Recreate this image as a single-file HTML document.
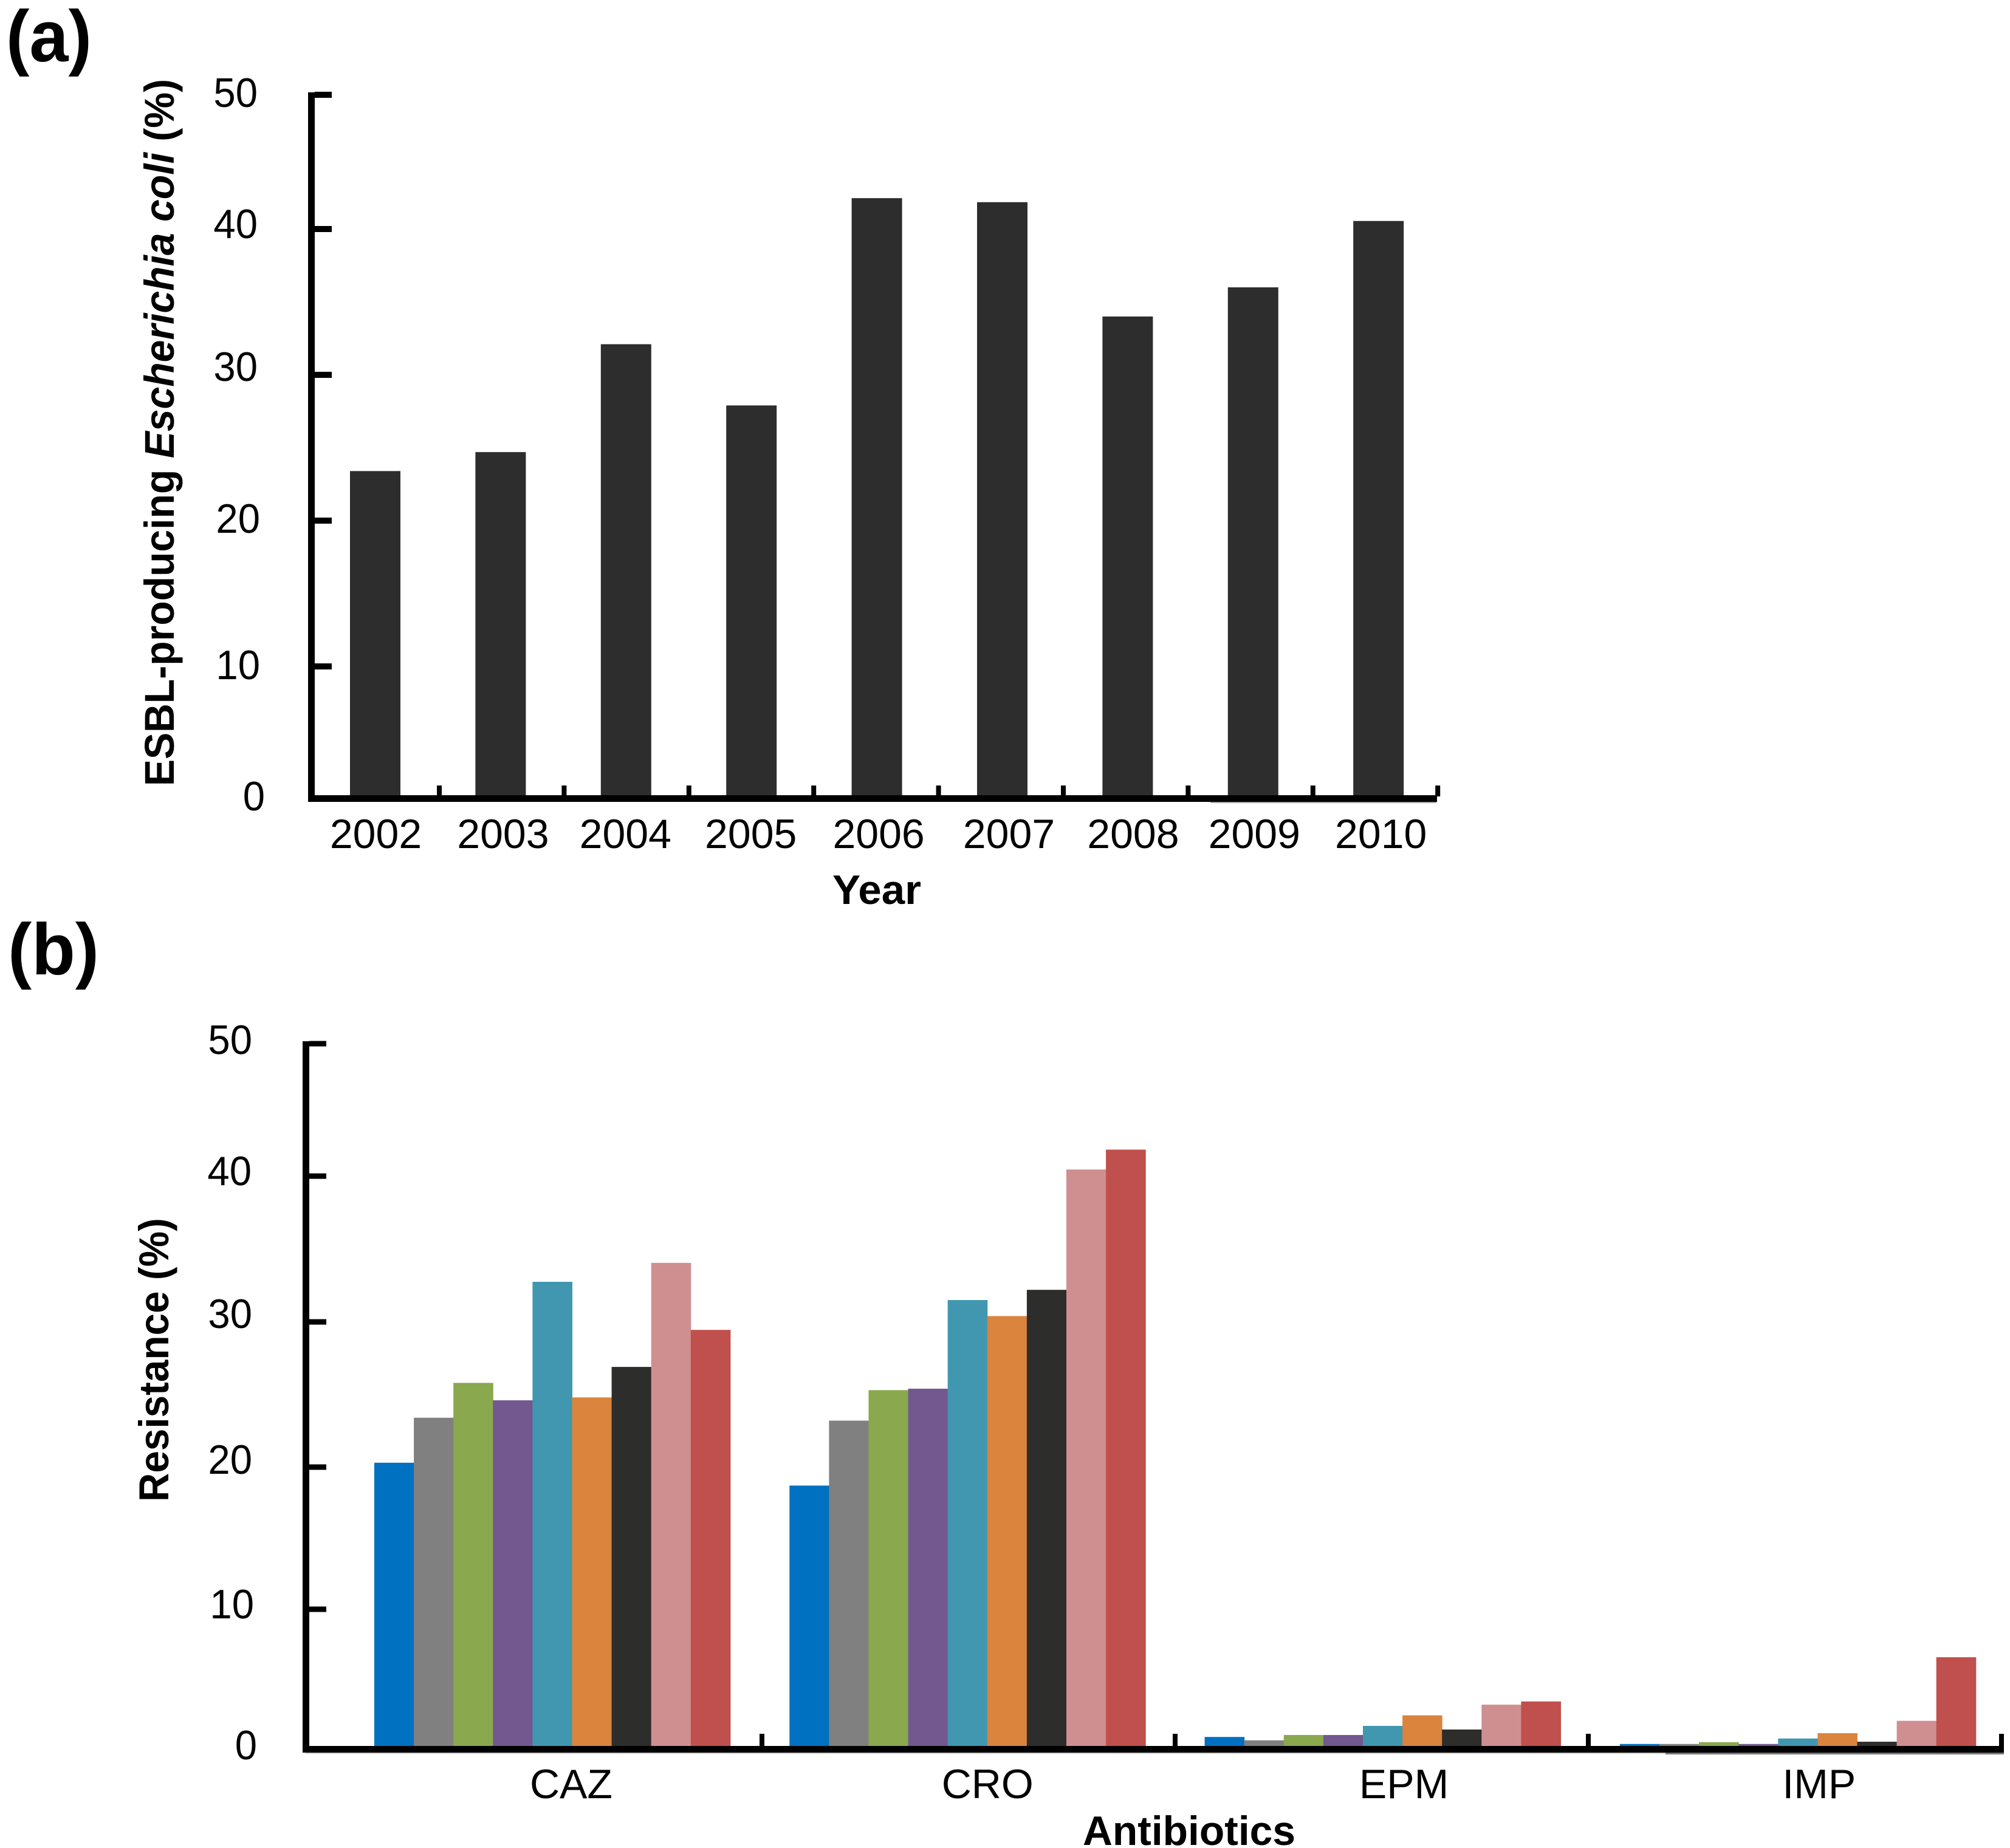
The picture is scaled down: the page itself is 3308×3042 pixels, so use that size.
<!DOCTYPE html>
<html lang="en">
<head>
<meta charset="utf-8">
<title>ESBL-producing Escherichia coli prevalence and antibiotic resistance</title>
<style>
html,body{margin:0;padding:0;background:#fff;}
svg{display:block;}
text{font-family:"Liberation Sans",Arial,sans-serif;fill:#000;}
.b{font-weight:700;}
</style>
</head>
<body>
<svg id="figure" xmlns="http://www.w3.org/2000/svg" width="3308" height="3042" viewBox="0 0 3308 3042">
  <rect x="0" y="0" width="3308" height="3042" fill="#ffffff"/>
  <text class="b" x="10" y="101" font-size="120" textLength="141" lengthAdjust="spacingAndGlyphs">(a)</text>
  <text class="b" x="13" y="1604" font-size="120" textLength="150" lengthAdjust="spacingAndGlyphs">(b)</text>
  <g id="panel-a"></g>
  <g id="panel-b"></g>
  <text class="b" transform="translate(286,1294) rotate(-90)" font-size="69" textLength="1164" lengthAdjust="spacingAndGlyphs">ESBL-producing <tspan font-style="italic">Escherichia coli</tspan> (%)</text>
  <text class="b" x="1443" y="1488" font-size="68" text-anchor="middle" textLength="146" lengthAdjust="spacingAndGlyphs">Year</text>
  <text class="b" transform="translate(277,2472) rotate(-90)" font-size="69" textLength="467" lengthAdjust="spacingAndGlyphs">Resistance (%)</text>
  <text class="b" x="1957" y="3037" font-size="68" text-anchor="middle" textLength="350" lengthAdjust="spacingAndGlyphs">Antibiotics</text>
</svg>
<script>
// ---- Panel (a) data ----
const years = ['2002','2003','2004','2005','2006','2007','2008','2009','2010'];
const esblValues = [23.4, 24.7, 32.1, 27.9, 42.3, 42.0, 34.0, 36.0, 40.6];
const aTickLabels = [0, 10, 20, 30, 40, 50];

// ---- Panel (b) data ----
const antibiotics = ['CAZ','CRO','EPM','IMP'];
const cazValues = [20.3, 23.4, 25.8, 24.6, 32.75, 24.8, 26.9, 34.05, 29.45];
const croValues = [18.7, 23.2, 25.3, 25.4, 31.5, 30.4, 32.2, 40.5, 42.0];
const epmValues = [0.9, 0.66, 1.04, 1.04, 1.69, 2.44, 1.43, 3.2, 3.43];
const impValues = [0.4, 0.4, 0.53, 0.4, 0.79, 1.17, 0.56, 2.05, 6.58];
const bTickLabels = [0, 10, 20, 30, 40, 50];
const seriesColors = ['#0070c0','#808080','#8aa84e','#72588f','#4197b0','#da843e','#2d2d2b','#cf8f91','#c0504d'];

const NS = 'http://www.w3.org/2000/svg';

function piecewise(v, px) {
  // px holds the pixel row of the ticks 0,10,...,50 (the source figure's axis is slightly uneven)
  const t = Math.max(0, Math.min(4.9999, v / 10));
  const i = Math.floor(t);
  return px[i] + (px[i + 1] - px[i]) * (t - i);
}
function yA(v) { return piecewise(v, [1315, 1097, 857, 617, 377, 156]); }
function yB(v) { return piecewise(v, [2880, 2649, 2415, 2176, 1936, 1718]); }
function xA(i) { return 617.5 + 206.4 * i; }
function xATick(i) { return 723 + 205.4 * i; }
function xB(g, s) { return 616 + 683.3 * g + 65.1 * s; }
function xBTick(i) { return 1254 + 680 * i; }

function makeRect(parent, x, y, w, h, fill) {
  const el = document.createElementNS(NS, 'rect');
  el.setAttribute('x', x);
  el.setAttribute('y', y);
  el.setAttribute('width', w);
  el.setAttribute('height', h);
  el.setAttribute('fill', fill);
  parent.appendChild(el);
  return el;
}
function makeText(parent, str, x, y, anchor, squeeze) {
  const el = document.createElementNS(NS, 'text');
  el.setAttribute('x', x);
  el.setAttribute('y', y);
  el.setAttribute('font-size', 68);
  el.setAttribute('text-anchor', anchor);
  el.textContent = str;
  parent.appendChild(el);
  el.setAttribute('textLength', (el.getComputedTextLength() * squeeze).toFixed(1));
  el.setAttribute('lengthAdjust', 'spacingAndGlyphs');
  return el;
}

// ---- Draw panel (a) ----
const gA = document.getElementById('panel-a');
const aLabelRight = [436, 428, 428, 424, 424, 424];
const aLabelDrop = [19, 21, 20, 10, 15, 20];
const aYearNudge = [1, 4, -1, -1, 3, 11, 9, 2, 4];

esblValues.forEach(function (v, i) {
  const bar = makeRect(gA, xA(i) - 41.5, yA(v), 83, yA(0) - yA(v), '#2d2d2d');
  
  
});
const aYLine = makeRect(gA, 507, 152, 11, 1168, '#000');


const aXLine = makeRect(gA, 507, 1309, 1858, 11, '#000');


const aShadow = makeRect(gA, 1992, 1320, 372, 2, '#aaa');



aTickLabels.forEach(function (t, i) {
  if (t > 0) {
    const tick = makeRect(gA, 518, yA(t) - 5, 28, 10, '#000');
    
    
  }
  const label = makeText(gA, String(t), aLabelRight[i], yA(t) + aLabelDrop[i], 'end', 0.96);
  
  
});
years.forEach(function (yr, i) {
  const tick = makeRect(gA, xATick(i) - 4, 1293, 8, 18, '#000');
  
  
  const label = makeText(gA, yr, xA(i) + aYearNudge[i], 1396, 'middle', 1.0);
  
  
});

// ---- Draw panel (b) ----
const gB = document.getElementById('panel-b');
const bGroups = [cazValues, croValues, epmValues, impValues];
const bLabelRight = [423, 418, 415, 415, 414, 415];
const bLabelDrop = [16, 15, 11, 10, 15, 17];
const bCategoryNudge = [31, 33, 35, 35];

bGroups.forEach(function (vals, g) {
  vals.forEach(function (v, s) {
    const bar = makeRect(gB, xB(g, s), yB(v), 65.6, yB(0) - yB(v), seriesColors[s]);
    
    
  });
});
const bYLine = makeRect(gB, 498, 1714, 11, 1171, '#000');


const bXLine = makeRect(gB, 498, 2874, 2800, 11, '#000');


const bShadowL = makeRect(gB, 503, 2885, 2238, 2, '#cccccc');


const bShadowR = makeRect(gB, 2741, 2885, 557, 3, '#777777');



bTickLabels.forEach(function (t, i) {
  if (t > 0) {
    const tick = makeRect(gB, 509, yB(t) - 4.5, 28, 9, '#000');
    
    
  }
  const label = makeText(gB, String(t), bLabelRight[i], yB(t) + bLabelDrop[i], 'end', 0.96);
  
  
});
antibiotics.forEach(function (name, g) {
  const tick = makeRect(gB, xBTick(g) - 4, 2854, 8, 22, '#000');
  
  
  const label = makeText(gB, name, xB(g, 4.5) + bCategoryNudge[g], 2960, 'middle', 1.0);
  
  
});
</script>
</body>
</html>
